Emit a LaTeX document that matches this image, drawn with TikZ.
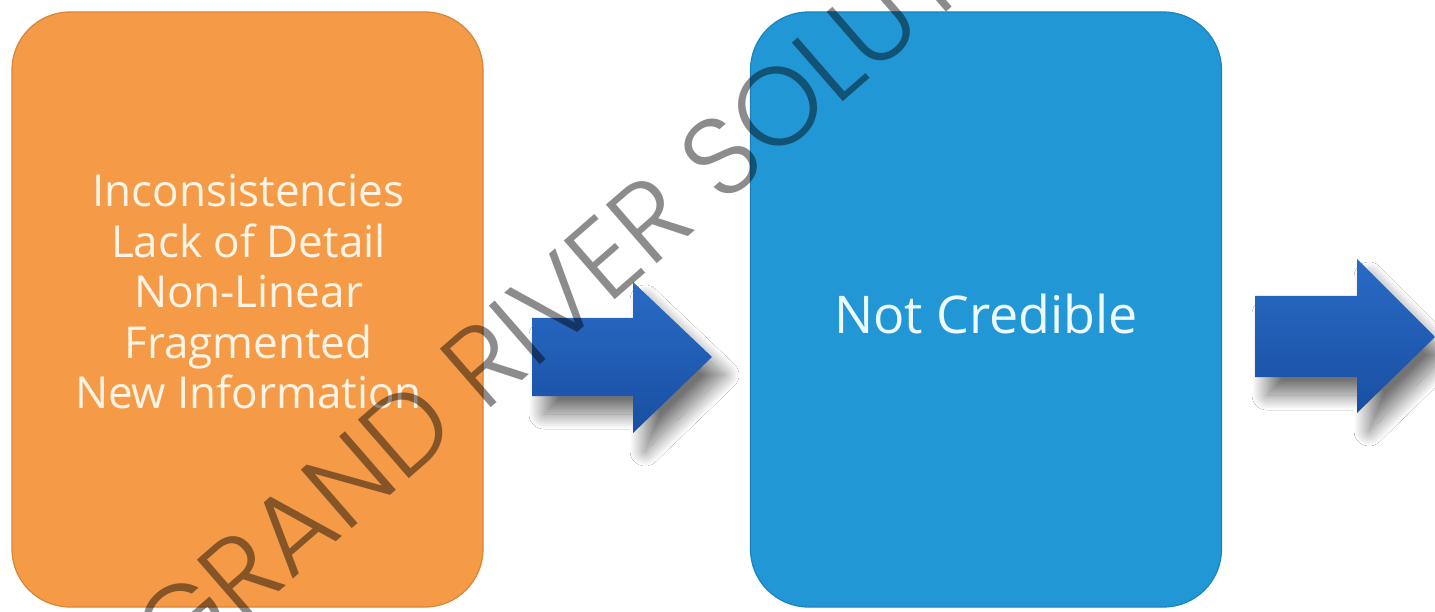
\documentclass[tikz,border=0pt]{standalone}
\usepackage{fontspec}
\setmainfont{Open Sans}
\newfontfamily\wmfont{Poppins Light}
\usetikzlibrary{shadows.blur}
\definecolor{boxorange}{HTML}{F59B48}
\definecolor{boxorangedark}{HTML}{DA8437}
\definecolor{boxblue}{HTML}{2197D5}
\definecolor{boxbluedark}{HTML}{1A84BF}
\definecolor{arrowlight}{HTML}{2A6BC6}
\definecolor{arrowdark}{HTML}{184FA2}
\definecolor{txtorange}{HTML}{FFF4E6}
\definecolor{txtblue}{HTML}{EEF8FF}
\begin{document}
\begin{tikzpicture}[x=1pt,y=-1pt,
  panel/.style={rounded corners=58pt, minimum width=471pt, minimum height=595pt, inner sep=0pt, line width=1.2pt},
  paneltext/.style={align=center, inner sep=0pt},
  blockarrow/.style={top color=arrowlight, bottom color=arrowdark, draw=none,
    blur shadow={shadow xshift=12pt, shadow yshift=-18pt, shadow blur radius=15pt, shadow blur steps=30, shadow opacity=55}},
  watermark/.style={rotate=41, text=black, text opacity=0.45, inner sep=0pt, font=\wmfont\fontsize{111}{111}\selectfont},
]
\useasboundingbox[fill=white] (0,0) rectangle (1435,612);
% panels
\node[panel, fill=boxorange, draw=boxorangedark] (b1) at (247.5,309.5) {};
\node[panel, fill=boxblue, draw=boxbluedark] (b2) at (986,309.5) {};
\node[paneltext, text=txtorange, font=\fontsize{44}{50.5}\selectfont] (t1) at (248.5,292) {Inconsistencies\\Lack of Detail\\Non-Linear\\Fragmented\\New Information};
\node[paneltext, text=txtblue, font=\fontsize{52}{60}\selectfont] (t2) at (986,314) {Not Credible};
% block arrows
\coordinate (a1) at (532,357);
\coordinate (a2) at (1255,336);
\path[blockarrow] (a1) ++(0,-39) -- ++(101,0) -- ++(0,-36) -- ++(79,75) -- ++(-79,76) -- ++(0,-37) -- ++(-101,0) -- cycle;
\path[blockarrow] (a2) ++(0,-40) -- ++(102,0) -- ++(0,-37) -- ++(78,78) -- ++(-78,76) -- ++(0,-36) -- ++(-102,0) -- cycle;
% watermark
\node[watermark] (wm) at (643,224) {GRAND RIVER SOLUTIONS};
\end{tikzpicture}
\end{document}
